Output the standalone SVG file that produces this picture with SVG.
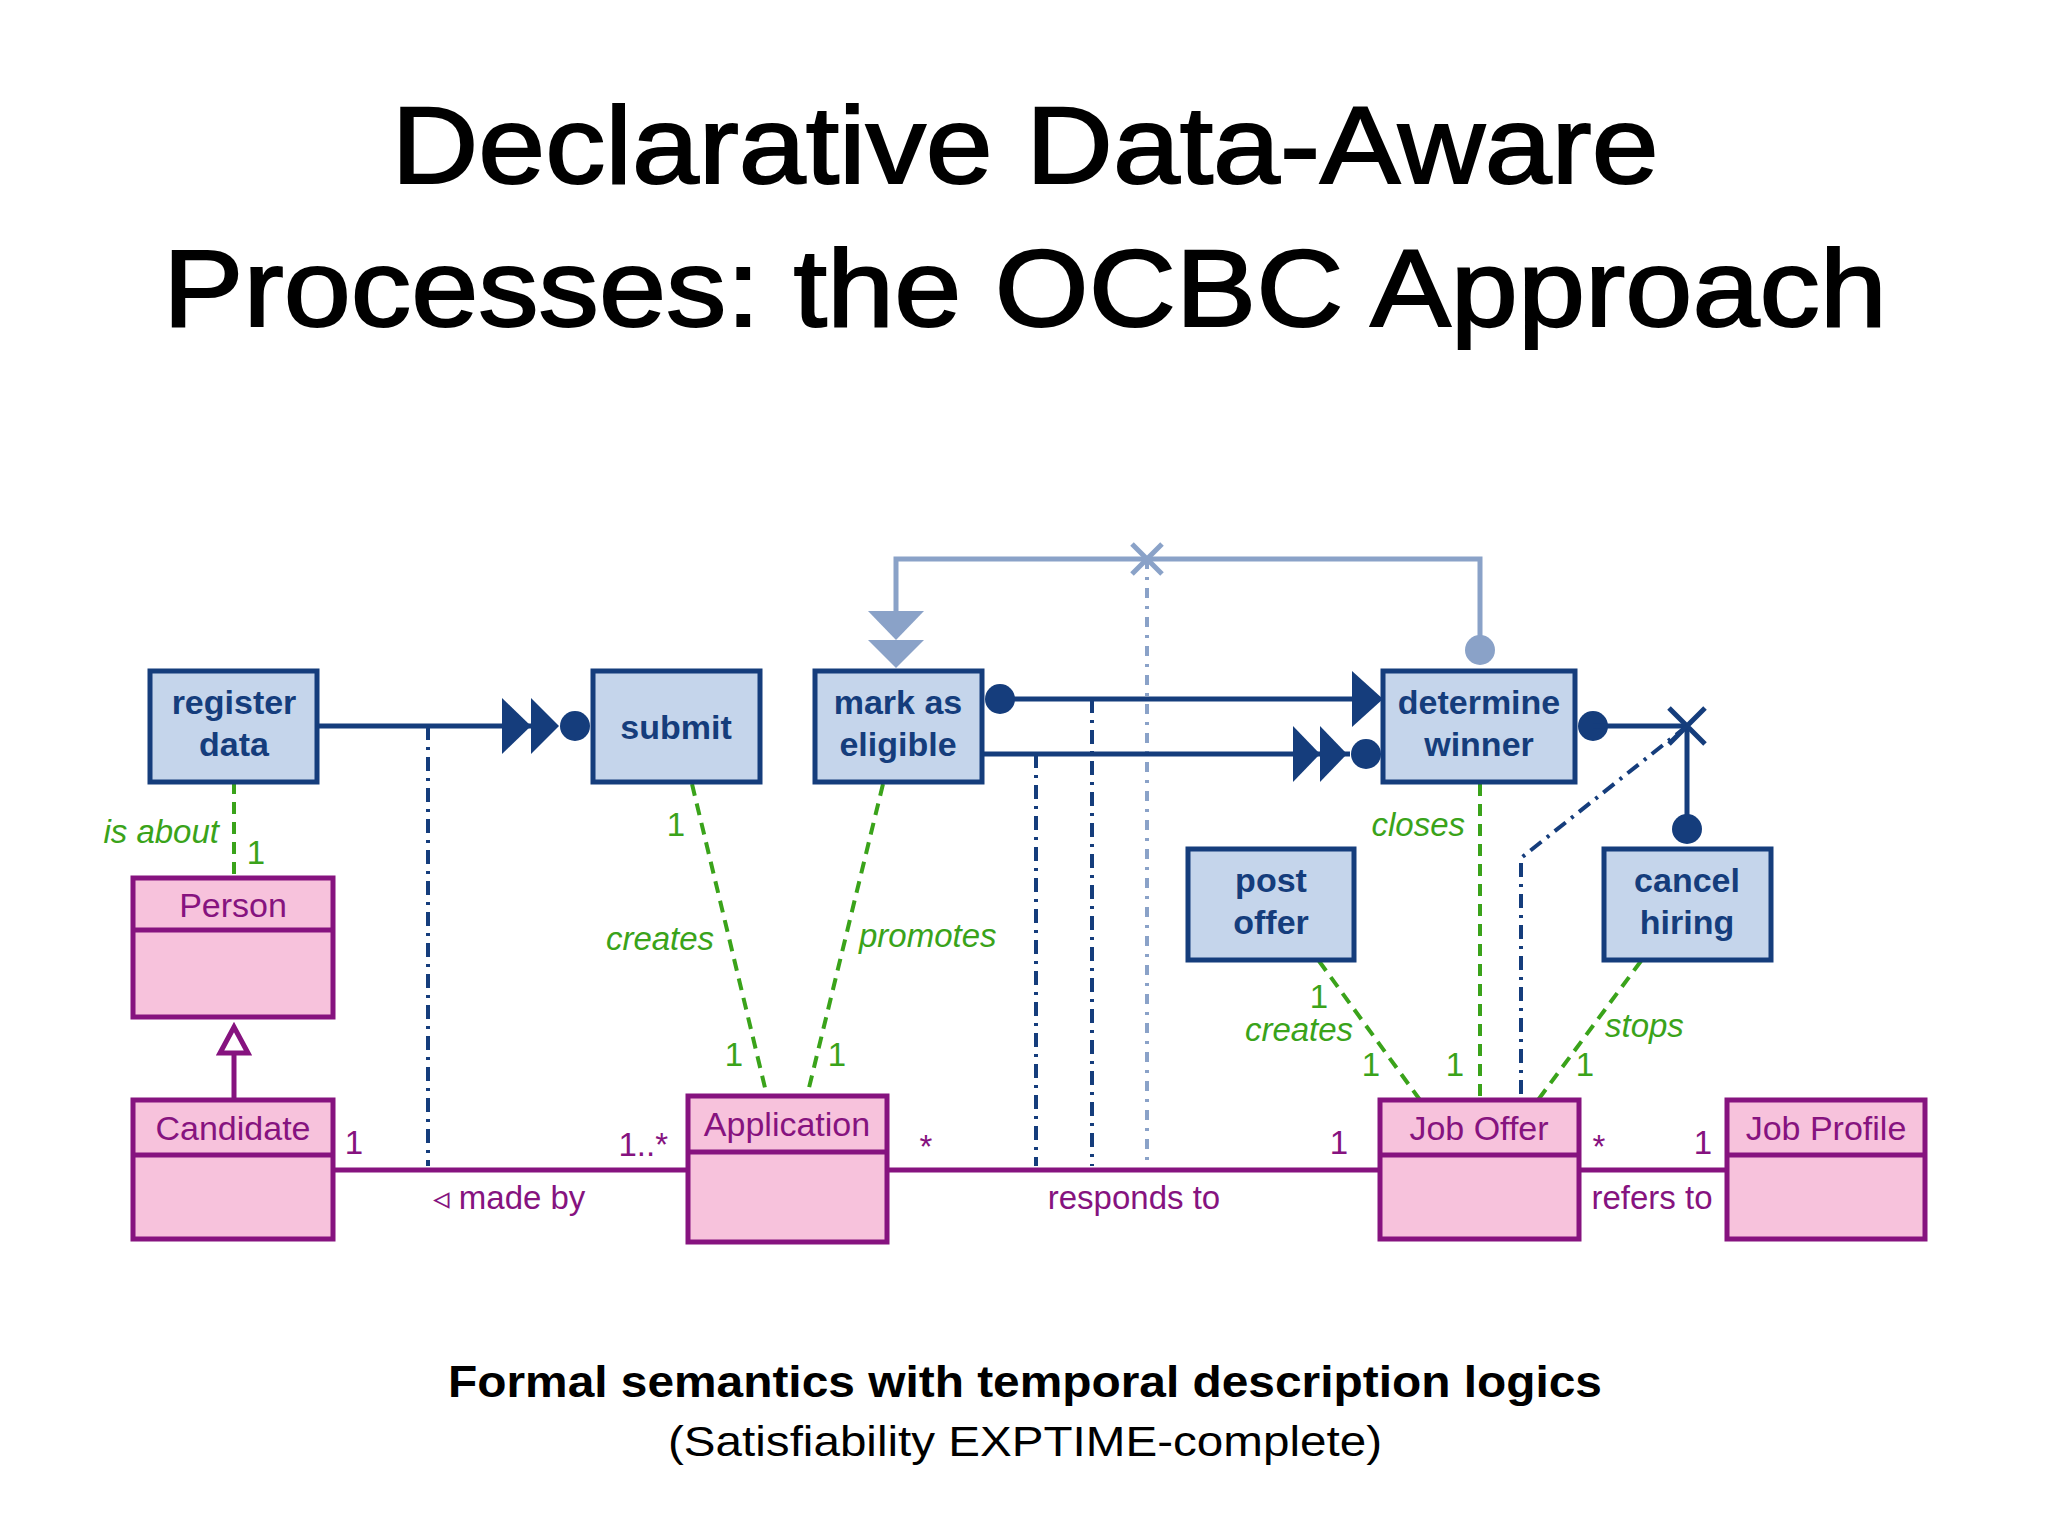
<svg xmlns="http://www.w3.org/2000/svg" width="2048" height="1536" viewBox="0 0 2048 1536">
<style>
.t{font-family:"Liberation Sans",Arial,sans-serif}
.act rect{fill:#c5d5eb;stroke:#153d7c;stroke-width:5}
.act text{font-family:"Liberation Sans",Arial,sans-serif;font-weight:bold;font-size:34px;fill:#153d7c;text-anchor:middle}
.cls rect{fill:#f7c2dc;stroke:#86137f;stroke-width:5}
.cls line{stroke:#86137f;stroke-width:5}
.cls text{font-family:"Liberation Sans",Arial,sans-serif;font-size:34px;fill:#86137f;text-anchor:middle}
.nv{stroke:#153d7c;stroke-width:5;fill:none}
.dd{stroke:#153d7c;stroke-width:4;fill:none;stroke-dasharray:14 7 3 7}
.lb{stroke:#8aa2c8;stroke-width:5;fill:none}
.gr{stroke:#3aa31a;stroke-width:4;fill:none;stroke-dasharray:12 8}
.pu{stroke:#86137f;stroke-width:5;fill:none}
.gt{font-family:"Liberation Sans",Arial,sans-serif;font-size:33px;fill:#3aa31a}
.gi{font-style:italic}
.pt{font-family:"Liberation Sans",Arial,sans-serif;font-size:33px;fill:#86137f}
.nf{fill:#153d7c}
.lf{fill:#8aa2c8}
</style>
<rect width="2048" height="1536" fill="#fff"/>
<text class="t" x="1025" y="183" font-size="110" text-anchor="middle" stroke="#000" stroke-width="2" textLength="1267" lengthAdjust="spacingAndGlyphs">Declarative Data-Aware</text>
<text class="t" x="1025" y="326" font-size="110" text-anchor="middle" stroke="#000" stroke-width="2" textLength="1724" lengthAdjust="spacingAndGlyphs">Processes: the OCBC Approach</text>
<g id="connectors">
<path class="lb" d="M1480,650 V559 H896 V611"/>
<circle class="lf" cx="1480" cy="650" r="15"/>
<polygon class="lf" points="868,611 924,611 896,640"/>
<polygon class="lf" points="868,640 924,640 896,668"/>
<path class="lb" d="M1132,544 L1162,574 M1162,544 L1132,574" stroke-width="4"/>
<line x1="1147" y1="559" x2="1147" y2="1160" stroke="#8aa2c8" stroke-width="4" stroke-dasharray="10 8 3 8"/>
<path class="nv" d="M317,726 H545"/>
<polygon class="nf" points="502,698 531,726 502,754"/>
<polygon class="nf" points="531,698 559,726 531,754"/>
<circle class="nf" cx="575" cy="726" r="15"/>
<line class="dd" x1="428" y1="726" x2="428" y2="1166"/>
<path class="nv" d="M1000,699 H1360"/>
<circle class="nf" cx="1000" cy="699" r="15"/>
<polygon class="nf" points="1352,671 1383,699 1352,727"/>
<line class="dd" x1="1092" y1="699" x2="1092" y2="1166"/>
<path class="nv" d="M982,754 H1350"/>
<polygon class="nf" points="1293,726 1320,754 1293,782"/>
<polygon class="nf" points="1320,726 1347,754 1320,782"/>
<circle class="nf" cx="1366" cy="754" r="15"/>
<line class="dd" x1="1036" y1="754" x2="1036" y2="1166"/>
<circle class="nf" cx="1593" cy="726" r="15"/>
<path class="nv" d="M1593,726 H1687 V829"/>
<path class="nv" d="M1669,708 L1705,744 M1705,708 L1669,744"/>
<circle class="nf" cx="1687" cy="829" r="15"/>
<path class="dd" d="M1687,726 L1521,858 V1100"/>
<line class="gr" x1="234" y1="782" x2="234" y2="878"/>
<line class="gr" x1="692" y1="784" x2="767" y2="1096"/>
<line class="gr" x1="883" y1="784" x2="807" y2="1096"/>
<line class="gr" x1="1480" y1="784" x2="1480" y2="1100"/>
<line class="gr" x1="1319" y1="961" x2="1420" y2="1100"/>
<line class="gr" x1="1641" y1="961" x2="1538" y2="1100"/>
<line class="pu" x1="333" y1="1170" x2="688" y2="1170"/>
<line class="pu" x1="887" y1="1170" x2="1380" y2="1170"/>
<line class="pu" x1="1579" y1="1170" x2="1727" y2="1170"/>
<path class="pu" d="M234,1100 V1053"/>
<polygon points="220,1053 248,1053 234,1027" fill="#fff" stroke="#86137f" stroke-width="5"/>
</g>
<g id="labels">
<text class="gt gi" x="219" y="843" text-anchor="end">is about</text>
<text class="gt" x="256" y="864" text-anchor="middle">1</text>
<text class="gt" x="676" y="836" text-anchor="middle">1</text>
<text class="gt gi" x="660" y="950" text-anchor="middle">creates</text>
<text class="gt" x="734" y="1066" text-anchor="middle">1</text>
<text class="gt gi" x="859" y="947">promotes</text>
<text class="gt" x="837" y="1066" text-anchor="middle">1</text>
<text class="gt gi" x="1465" y="836" text-anchor="end">closes</text>
<text class="gt" x="1455" y="1076" text-anchor="middle">1</text>
<text class="gt" x="1319" y="1008" text-anchor="middle">1</text>
<text class="gt gi" x="1299" y="1041" text-anchor="middle">creates</text>
<text class="gt" x="1371" y="1076" text-anchor="middle">1</text>
<text class="gt gi" x="1605" y="1037">stops</text>
<text class="gt" x="1585" y="1076" text-anchor="middle">1</text>
<text class="pt" x="354" y="1154" text-anchor="middle">1</text>
<text class="pt" x="668" y="1156" text-anchor="end">1..*</text>
<text class="pt" x="509" y="1209" text-anchor="middle">◃ made by</text>
<text class="pt" x="926" y="1158" text-anchor="middle">*</text>
<text class="pt" x="1339" y="1154" text-anchor="middle">1</text>
<text class="pt" x="1134" y="1209" text-anchor="middle">responds to</text>
<text class="pt" x="1599" y="1158" text-anchor="middle">*</text>
<text class="pt" x="1703" y="1154" text-anchor="middle">1</text>
<text class="pt" x="1652" y="1209" text-anchor="middle">refers to</text>
</g>
<g id="register" class="act"><rect x="150" y="671" width="167" height="111"/><text x="234" y="714">register</text><text x="234" y="756">data</text></g>
<g id="submit" class="act"><rect x="593" y="671" width="167" height="111"/><text x="676" y="739">submit</text></g>
<g id="mark" class="act"><rect x="815" y="671" width="167" height="111"/><text x="898" y="714">mark as</text><text x="898" y="756">eligible</text></g>
<g id="determine" class="act"><rect x="1383" y="671" width="192" height="111"/><text x="1479" y="714">determine</text><text x="1479" y="756">winner</text></g>
<g id="post" class="act"><rect x="1188" y="849" width="166" height="111"/><text x="1271" y="892">post</text><text x="1271" y="934">offer</text></g>
<g id="cancel" class="act"><rect x="1604" y="849" width="167" height="111"/><text x="1687" y="892">cancel</text><text x="1687" y="934">hiring</text></g>
<g id="person" class="cls"><rect x="133" y="878" width="200" height="139"/><line x1="133" y1="930" x2="333" y2="930"/><text x="233" y="917">Person</text></g>
<g id="candidate" class="cls"><rect x="133" y="1100" width="200" height="139"/><line x1="133" y1="1155" x2="333" y2="1155"/><text x="233" y="1140">Candidate</text></g>
<g id="application" class="cls"><rect x="688" y="1096" width="199" height="146"/><line x1="688" y1="1152" x2="887" y2="1152"/><text x="787" y="1136">Application</text></g>
<g id="joboffer" class="cls"><rect x="1380" y="1100" width="199" height="139"/><line x1="1380" y1="1155" x2="1579" y2="1155"/><text x="1479" y="1140">Job Offer</text></g>
<g id="jobprofile" class="cls"><rect x="1727" y="1100" width="198" height="139"/><line x1="1727" y1="1155" x2="1925" y2="1155"/><text x="1826" y="1140">Job Profile</text></g>
<text class="t" x="1025" y="1397" font-size="45" font-weight="bold" text-anchor="middle" textLength="1154" lengthAdjust="spacingAndGlyphs">Formal semantics with temporal description logics</text>
<text class="t" x="1025" y="1456" font-size="43" text-anchor="middle" textLength="714" lengthAdjust="spacingAndGlyphs">(Satisfiability EXPTIME-complete)</text>
</svg>
